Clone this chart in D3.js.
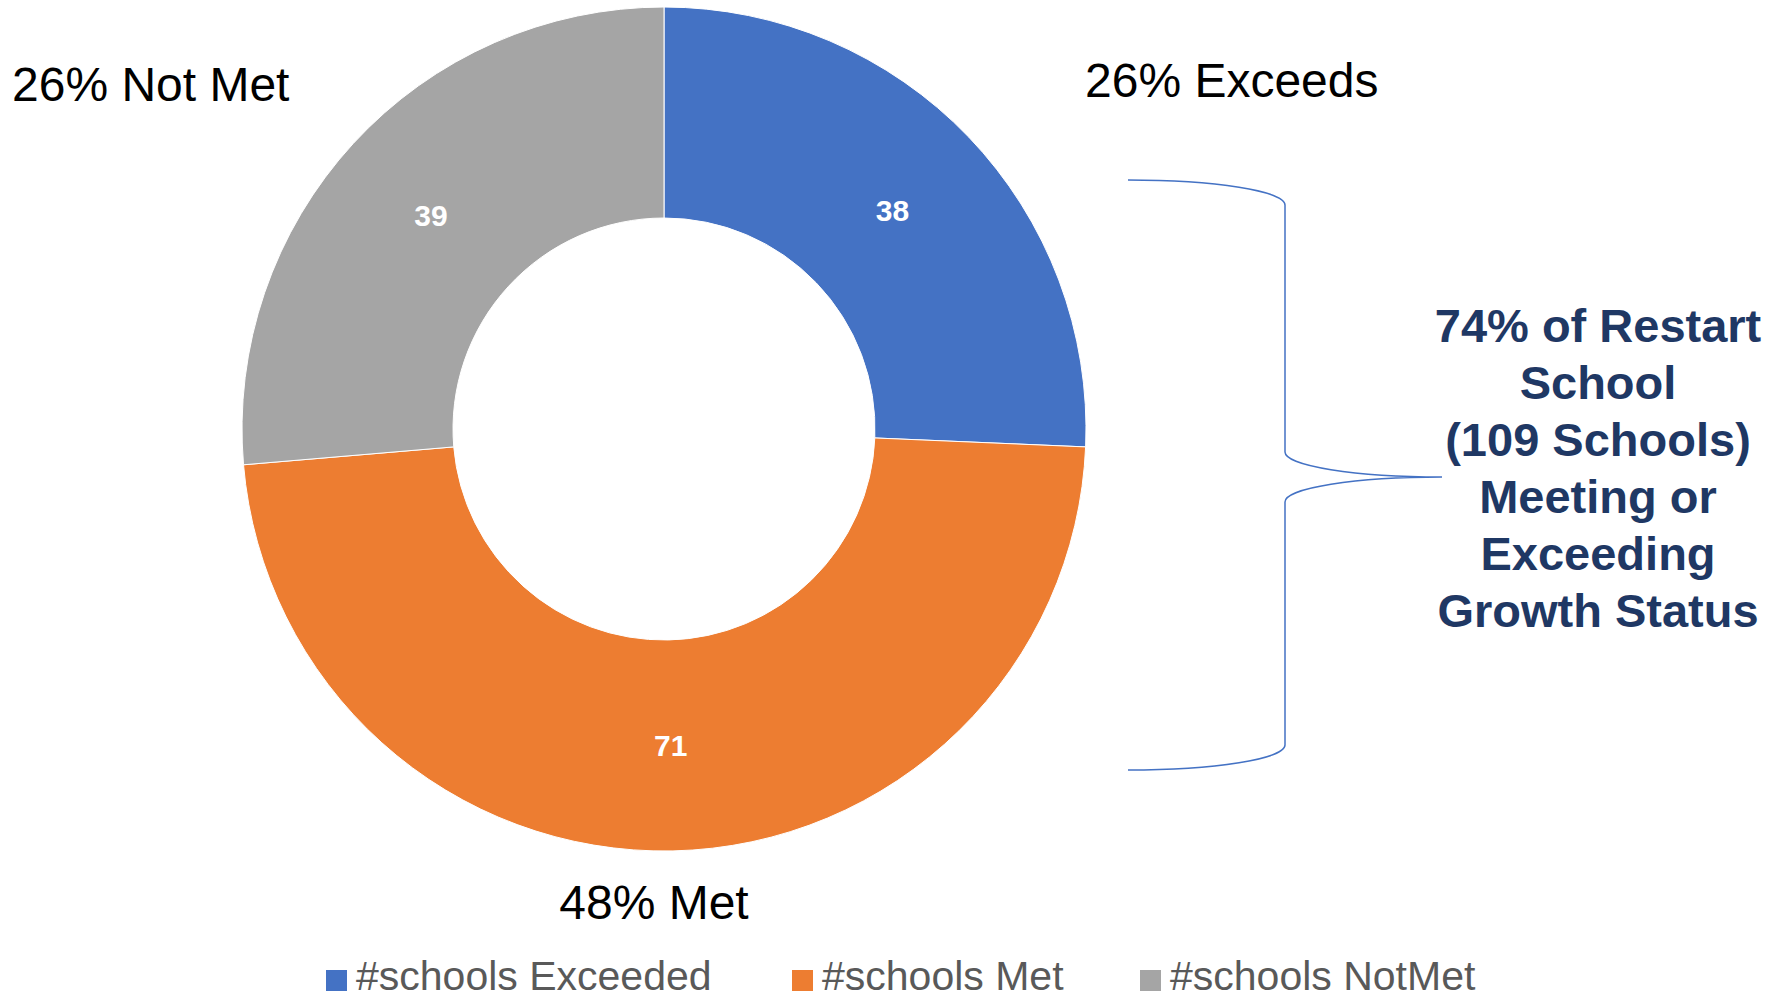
<!DOCTYPE html>
<html>
<head>
<meta charset="utf-8">
<script src="https://cdn.jsdelivr.net/npm/d3@7"></script>
<style>
  html, body { margin: 0; padding: 0; background: #fff; }
  svg { display: block; font-family: "Liberation Sans", Arial, sans-serif; }
</style>
</head>
<body>
<svg id="chart" width="1785" height="998"></svg>
<script>
// ---- data ----
const categories = ["#schools Exceeded", "#schools Met", "#schools NotMet"];
const values = [38, 71, 39];
const statusNames = ["Exceeds", "Met", "Not Met"];
const colors = ["#4472C4", "#ED7D31", "#A5A5A5"];
const annotationLines = ["74% of Restart", "School", "(109 Schools)", "Meeting or", "Exceeding", "Growth Status"];

// ---- layout ----
const svg = d3.select("#chart");
const cx = 664, cy = 429, rOuter = 422, rInner = 211;

const pie = d3.pie().sort(null).value(d => d)(values);
const arc = d3.arc().innerRadius(rInner).outerRadius(rOuter);
const color = d3.scaleOrdinal().domain(categories).range(colors);
const total = d3.sum(values);

const g = svg.append("g").attr("transform", `translate(${cx},${cy})`);
g.selectAll("path.slice").data(pie).join("path")
  .attr("class", "slice")
  .attr("d", arc)
  .attr("fill", (d, i) => color(categories[i]))
  .attr("stroke", "#fff")
  .attr("stroke-width", 1);

g.selectAll("text.val").data(pie).join("text")
  .attr("class", "val")
  .attr("x", d => arc.centroid(d)[0])
  .attr("y", d => arc.centroid(d)[1] + 11)
  .attr("text-anchor", "middle")
  .attr("font-size", 30)
  .attr("font-weight", "bold")
  .attr("fill", "#fff")
  .text(d => d.data);

// outer status labels
const pct = v => Math.round(v / total * 100) + "%";
const outerPos = [
  { x: 1085, y: 97, anchor: "start" },
  { x: 654, y: 919, anchor: "middle" },
  { x: 12, y: 101, anchor: "start" }
];
svg.selectAll("text.status").data(values).join("text")
  .attr("class", "status")
  .attr("x", (d, i) => outerPos[i].x)
  .attr("y", (d, i) => outerPos[i].y)
  .attr("text-anchor", (d, i) => outerPos[i].anchor)
  .attr("font-size", 48)
  .attr("fill", "#000")
  .text((d, i) => pct(d) + " " + statusNames[i]);

// brace
const bx0 = 1128, bxm = 1285, bx1 = 1442, by0 = 180, byt = 477, by1 = 770, ry = 25;
const rx = bxm - bx0;
const bracePath = `M${bx0},${by0} A${rx},${ry} 0 0 1 ${bxm},${by0 + ry} L${bxm},${byt - ry} A${bx1 - bxm},${ry} 0 0 0 ${bx1},${byt}` +
  ` A${bx1 - bxm},${ry} 0 0 0 ${bxm},${byt + ry} L${bxm},${by1 - ry} A${rx},${ry} 0 0 1 ${bx0},${by1}`;
svg.append("path").attr("d", bracePath)
  .attr("fill", "none").attr("stroke", "#4472C4").attr("stroke-width", 1.5);

// annotation
svg.append("g").selectAll("text").data(annotationLines).join("text")
  .attr("x", 1598)
  .attr("y", (d, i) => 342 + i * 57)
  .attr("text-anchor", "middle")
  .attr("font-size", 47)
  .attr("font-weight", "bold")
  .attr("fill", "#1F3864")
  .text(d => d);

// legend
const legendX = [326, 792, 1140];
const leg = svg.append("g").selectAll("g").data(categories).join("g")
  .attr("transform", (d, i) => `translate(${legendX[i]},0)`);
leg.append("rect").attr("x", 0).attr("y", 970).attr("width", 21).attr("height", 21)
  .attr("fill", d => color(d));
leg.append("text").attr("x", 30).attr("y", 990)
  .attr("font-size", 41).attr("fill", "#595959")
  .text(d => d);
</script>
</body>
</html>
